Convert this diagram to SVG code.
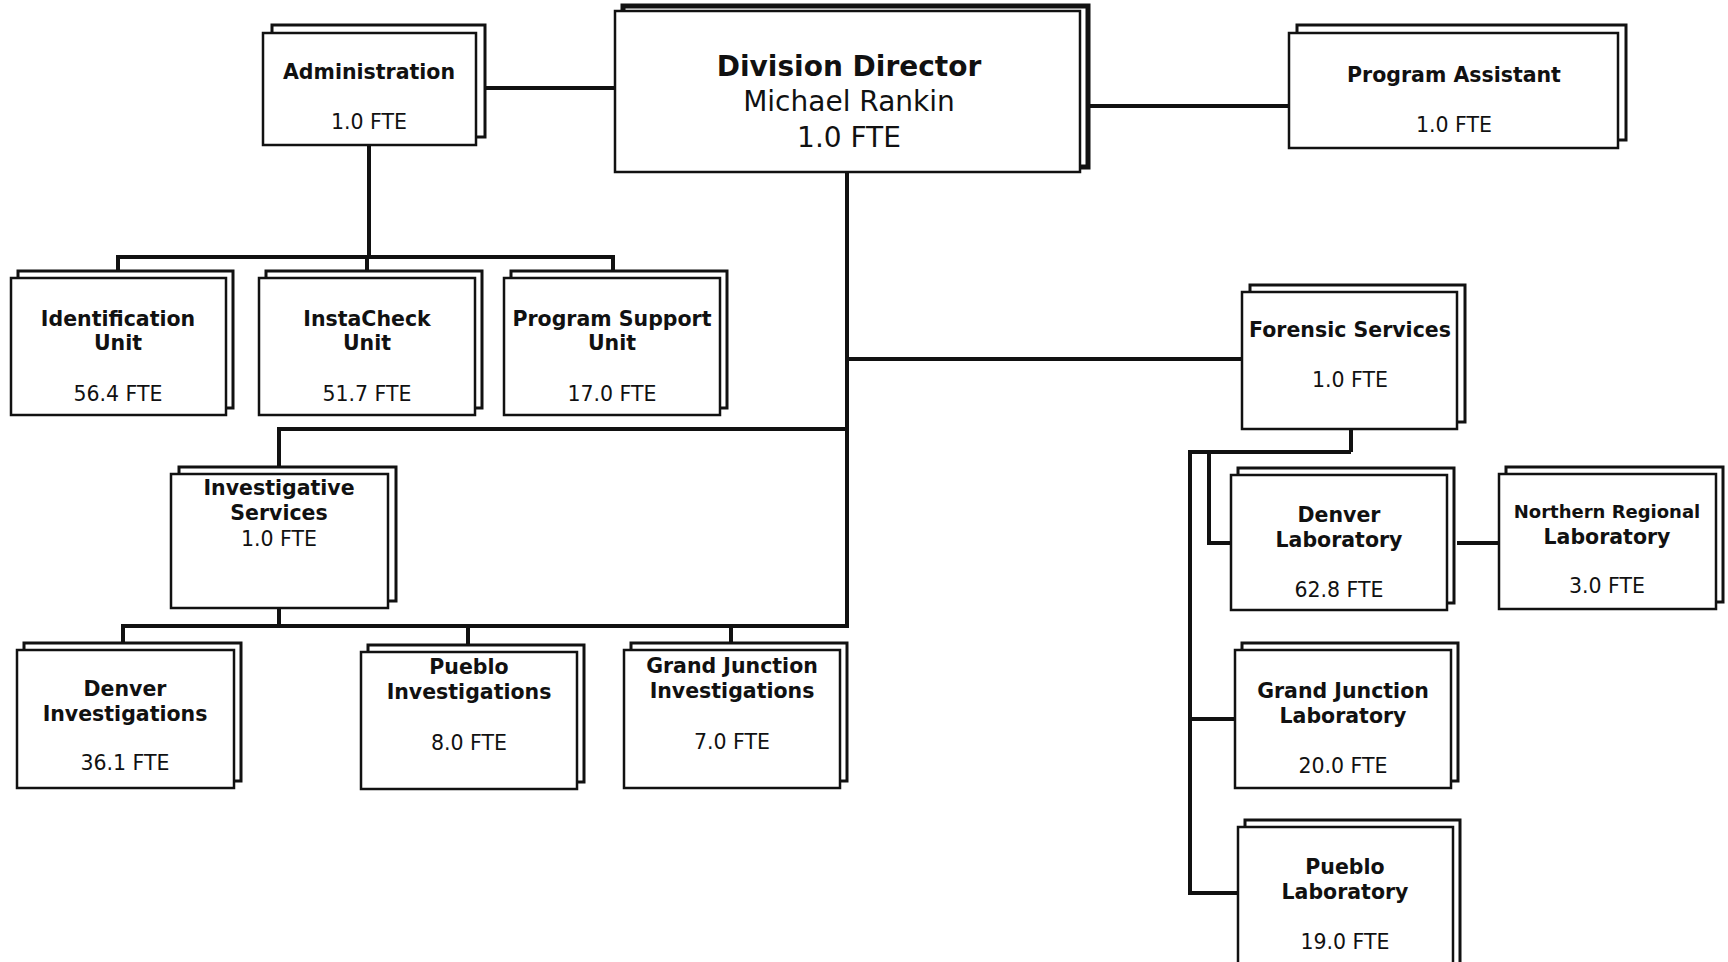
<svg xmlns="http://www.w3.org/2000/svg" width="1728" height="962" viewBox="0 0 1728 962">
<style>
.bk{fill:#fff;stroke:#111;stroke-width:3}
.fr{fill:#fff;stroke:#111;stroke-width:2.5}
.dk{fill:#fff;stroke:#111;stroke-width:5}
.b{font-family:"DejaVu Sans",Verdana,sans-serif;font-weight:bold;font-size:20.5px;fill:#111;text-anchor:middle}
.r{font-family:"DejaVu Sans",Verdana,sans-serif;font-size:20.5px;fill:#111;text-anchor:middle}
.c line,.c polyline{stroke:#111;stroke-width:4;fill:none}
</style>
<rect width="1728" height="962" fill="#fff"/>
<g class="c" id="connectors">
<line x1="485" y1="88" x2="615" y2="88"/>
<line x1="1090" y1="106" x2="1289" y2="106"/>
<line x1="369" y1="145" x2="369" y2="257"/>
<line x1="116" y1="257" x2="615" y2="257"/>
<line x1="118" y1="257" x2="118" y2="271"/>
<line x1="367" y1="257" x2="367" y2="271"/>
<line x1="613" y1="257" x2="613" y2="271"/>
<line x1="847" y1="172" x2="847" y2="628"/>
<line x1="847" y1="359" x2="1242" y2="359"/>
<line x1="277" y1="429" x2="849" y2="429"/>
<line x1="279" y1="429" x2="279" y2="467"/>
<line x1="279" y1="608" x2="279" y2="626"/>
<line x1="121" y1="626" x2="849" y2="626"/>
<line x1="123" y1="626" x2="123" y2="643"/>
<line x1="468" y1="626" x2="468" y2="645"/>
<line x1="731" y1="626" x2="731" y2="643"/>
<line x1="1351" y1="429" x2="1351" y2="452"/>
<polyline points="1351,452 1190,452 1190,895"/>
<polyline points="1209,452 1209,543 1231,543"/>
<line x1="1457" y1="543" x2="1499" y2="543"/>
<line x1="1190" y1="719" x2="1235" y2="719"/>
<line x1="1190" y1="893" x2="1238" y2="893"/>
</g>
<g id="director">
<rect class="dk" x="623" y="6" width="465" height="161"/>
<rect class="fr" x="615" y="11" width="465" height="161"/>
<text class="b" x="849" y="76" style="font-size:28px">Division Director</text>
<text class="r" x="849" y="111" style="font-size:28px">Michael Rankin</text>
<text class="r" x="849" y="147" style="font-size:28px">1.0 FTE</text>
</g>
<g id="administration">
<rect class="bk" x="272" y="25" width="213" height="112"/>
<rect class="fr" x="263" y="33" width="213" height="112"/>
<text class="b" x="369" y="79">Administration</text>
<text class="r" x="369" y="129">1.0 FTE</text>
</g>
<g id="program-assistant">
<rect class="bk" x="1297" y="25" width="329" height="115"/>
<rect class="fr" x="1289" y="33" width="329" height="115"/>
<text class="b" x="1454" y="82">Program Assistant</text>
<text class="r" x="1454" y="132">1.0 FTE</text>
</g>
<g id="identification-unit">
<rect class="bk" x="18" y="271" width="215" height="137"/>
<rect class="fr" x="11" y="278" width="215" height="137"/>
<text class="b" x="118" y="326">Identification</text>
<text class="b" x="118" y="350">Unit</text>
<text class="r" x="118" y="401">56.4 FTE</text>
</g>
<g id="instacheck-unit">
<rect class="bk" x="266" y="271" width="216" height="137"/>
<rect class="fr" x="259" y="278" width="216" height="137"/>
<text class="b" x="367" y="326">InstaCheck</text>
<text class="b" x="367" y="350">Unit</text>
<text class="r" x="367" y="401">51.7 FTE</text>
</g>
<g id="program-support-unit">
<rect class="bk" x="511" y="271" width="216" height="137"/>
<rect class="fr" x="504" y="278" width="216" height="137"/>
<text class="b" x="612" y="326">Program Support</text>
<text class="b" x="612" y="350">Unit</text>
<text class="r" x="612" y="401">17.0 FTE</text>
</g>
<g id="investigative-services">
<rect class="bk" x="179" y="467" width="217" height="134"/>
<rect class="fr" x="171" y="474" width="217" height="134"/>
<text class="b" x="279" y="495">Investigative</text>
<text class="b" x="279" y="520">Services</text>
<text class="r" x="279" y="546">1.0 FTE</text>
</g>
<g id="denver-investigations">
<rect class="bk" x="24" y="643" width="217" height="138"/>
<rect class="fr" x="17" y="650" width="217" height="138"/>
<text class="b" x="125" y="696">Denver</text>
<text class="b" x="125" y="721">Investigations</text>
<text class="r" x="125" y="770">36.1 FTE</text>
</g>
<g id="pueblo-investigations">
<rect class="bk" x="368" y="645" width="216" height="137"/>
<rect class="fr" x="361" y="652" width="216" height="137"/>
<text class="b" x="469" y="674">Pueblo</text>
<text class="b" x="469" y="699">Investigations</text>
<text class="r" x="469" y="750">8.0 FTE</text>
</g>
<g id="grand-junction-investigations">
<rect class="bk" x="631" y="643" width="216" height="138"/>
<rect class="fr" x="624" y="650" width="216" height="138"/>
<text class="b" x="732" y="673">Grand Junction</text>
<text class="b" x="732" y="698">Investigations</text>
<text class="r" x="732" y="749">7.0 FTE</text>
</g>
<g id="forensic-services">
<rect class="bk" x="1250" y="285" width="215" height="137"/>
<rect class="fr" x="1242" y="292" width="215" height="137"/>
<text class="b" x="1350" y="337">Forensic Services</text>
<text class="r" x="1350" y="387">1.0 FTE</text>
</g>
<g id="denver-laboratory">
<rect class="bk" x="1238" y="468" width="216" height="135"/>
<rect class="fr" x="1231" y="475" width="216" height="135"/>
<text class="b" x="1339" y="522">Denver</text>
<text class="b" x="1339" y="547">Laboratory</text>
<text class="r" x="1339" y="597">62.8 FTE</text>
</g>
<g id="northern-regional-laboratory">
<rect class="bk" x="1506" y="467" width="217" height="135"/>
<rect class="fr" x="1499" y="474" width="217" height="135"/>
<text class="b" x="1607" y="518" style="font-size:18px">Northern Regional</text>
<text class="b" x="1607" y="544">Laboratory</text>
<text class="r" x="1607" y="593">3.0 FTE</text>
</g>
<g id="grand-junction-laboratory">
<rect class="bk" x="1242" y="643" width="216" height="138"/>
<rect class="fr" x="1235" y="650" width="216" height="138"/>
<text class="b" x="1343" y="698">Grand Junction</text>
<text class="b" x="1343" y="723">Laboratory</text>
<text class="r" x="1343" y="773">20.0 FTE</text>
</g>
<g id="pueblo-laboratory">
<rect class="bk" x="1245" y="820" width="215" height="160"/>
<rect class="fr" x="1238" y="827" width="215" height="160"/>
<text class="b" x="1345" y="874">Pueblo</text>
<text class="b" x="1345" y="899">Laboratory</text>
<text class="r" x="1345" y="949">19.0 FTE</text>
</g>
</svg>
